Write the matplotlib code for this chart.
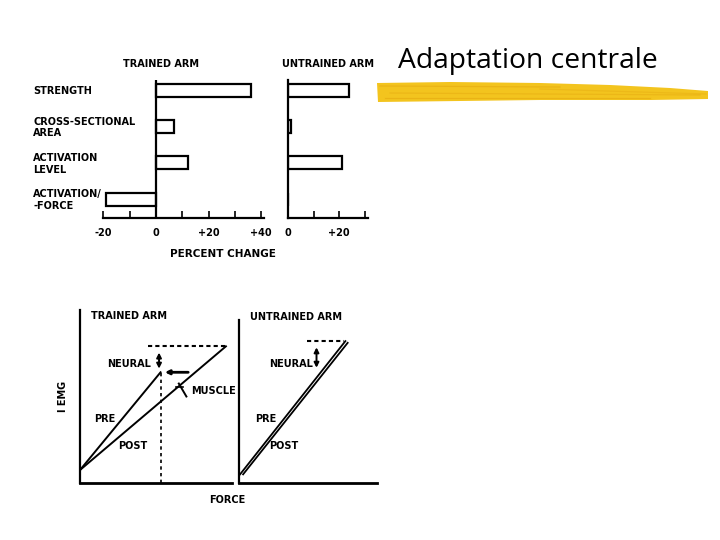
import matplotlib
matplotlib.use("Agg")
import matplotlib.pyplot as plt
import matplotlib.transforms as mtransforms
from matplotlib.lines import Line2D
from matplotlib.patches import Polygon

# ---------------- data ----------------
categories = ["STRENGTH", "CROSS-SECTIONAL\nAREA", "ACTIVATION\nLEVEL", "ACTIVATION/\n-FORCE"]
trained_change = [36, 7, 12, -19]
untrained_change = [24, 1, 21, 0]
trained_ticks = [-20, 0, 20, 40]
trained_ticklabels = ["-20", "0", "+20", "+40"]
untrained_ticks = [0, 20]
untrained_ticklabels = ["0", "+20"]

# bottom schematic (force vs integrated EMG)
tr_pre_force = [0, 5.3]
tr_pre_emg = [0.75, 6.4]
tr_post_force = [0, 9.6]
tr_post_emg = [0.75, 7.9]
un_pre_force = [0.07, 7.0]
un_pre_emg = [0.5, 8.2]
un_post_force = [0.27, 7.15]
un_post_emg = [0.5, 8.1]

W, H = 720, 540
fig = plt.figure(figsize=(7.2, 5.4), dpi=100)
fig.patch.set_facecolor("white")

def fr(x0, y0, x1, y1):
    # pixel box (left, top, right, bottom) -> figure fraction rect
    return [x0 / W, 1 - y1 / H, (x1 - x0) / W, (y1 - y0) / H]

def fx(x):
    return x / W

def fy(y):
    return 1 - y / H

lab = dict(fontsize=7, fontweight="bold", family="DejaVu Sans", color="black")
LW = 1.6

# ---------------- top: trained arm ----------------
ax1 = fig.add_axes(fr(103.4, 80, 263.8, 218))
ypos = [3, 2, 1, 0]
ax1.barh(ypos, trained_change, height=0.36, left=0, color="white", edgecolor="black", linewidth=LW)
ax1.set_xlim(-20, 41)
ax1.set_ylim(-0.52, 3.28)
ax1.axvline(0, color="black", lw=LW)
for s in ["top", "right", "left"]:
    ax1.spines[s].set_visible(False)
ax1.spines["bottom"].set_linewidth(LW)
ax1.set_yticks([])
ax1.set_xticks(trained_ticks)
ax1.set_xticklabels(trained_ticklabels, **lab)
ax1.set_xticks([-10, 10, 30], minor=True)
ax1.tick_params(axis="x", which="both", direction="in", length=5, width=1.2, pad=7)
ax1.set_xlabel("PERCENT CHANGE", fontsize=7.5, fontweight="bold")
ax1.xaxis.set_label_coords((223 - 103.4) / 160.4, -0.225)
fig.text(fx(161), fy(64), "TRAINED ARM", ha="center", va="center", **lab)

# category labels
trans = mtransforms.blended_transform_factory(fig.transFigure, ax1.transData)
for y, c in zip(ypos, categories):
    fig.text(33 / W, y - 0.03, c, transform=trans, ha="left", va="center", linespacing=1.2, **lab)

# ---------------- top: untrained arm ----------------
ax2 = fig.add_axes(fr(288, 80, 368, 218))
ax2.barh(ypos, untrained_change, height=0.36, left=0, color="white", edgecolor="black", linewidth=LW)
ax2.set_xlim(0, 31.3)
ax2.set_ylim(-0.52, 3.28)
for s in ["top", "right"]:
    ax2.spines[s].set_visible(False)
ax2.spines["bottom"].set_linewidth(LW)
ax2.spines["left"].set_linewidth(LW)
ax2.set_yticks([])
ax2.set_xticks(untrained_ticks)
ax2.set_xticklabels(untrained_ticklabels, **lab)
ax2.set_xticks([10, 30], minor=True)
ax2.tick_params(axis="x", which="both", direction="in", length=5, width=1.2, pad=7)
fig.text(fx(328), fy(64), "UNTRAINED ARM", ha="center", va="center", **lab)

# ---------------- bottom: trained arm ----------------
ax3 = fig.add_axes(fr(80, 310, 232, 483))
ax3.set_xlim(0, 10)
ax3.set_ylim(0, 10)
ax3.plot(tr_pre_force, tr_pre_emg, color="black", lw=1.4)
ax3.plot(tr_post_force, tr_post_emg, color="black", lw=1.4)
ax3.plot([4.5, tr_post_force[1]], [tr_post_emg[1]] * 2, color="black", lw=1.5, ls=(0, (2, 1.5)))
ax3.plot([tr_pre_force[1]] * 2, [0, tr_pre_emg[1]], color="black", lw=1.2, ls=(0, (2, 2)))
ax3.annotate("", xy=(5.2, tr_post_emg[1] - 0.2), xytext=(5.2, tr_pre_emg[1] + 0.05),
             arrowprops=dict(arrowstyle="<|-|>", color="black", lw=1.4, mutation_scale=7))
ax3.annotate("", xy=(5.4, tr_pre_emg[1]), xytext=(7.3, tr_pre_emg[1]),
             arrowprops=dict(arrowstyle="-|>", color="black", lw=2.0, mutation_scale=6))
ax3.plot([6.5, 7.0], [5.75, 5.0], color="black", lw=1.4)
ax3.plot([6.3, 6.75], [5.55, 5.55], color="black", lw=1.2)
ax3.text(1.8, 6.9, "NEURAL", ha="left", va="center", **lab)
ax3.text(7.3, 5.3, "MUSCLE", ha="left", va="center", **lab)
ax3.text(0.9, 3.7, "PRE", ha="left", va="center", **lab)
ax3.text(2.5, 2.15, "POST", ha="left", va="center", **lab)
ax3.text(0.7, 9.65, "TRAINED ARM", ha="left", va="center", **lab)
ax3.set_xticks([])
ax3.set_yticks([])
for s in ["top", "right"]:
    ax3.spines[s].set_visible(False)
ax3.spines["left"].set_linewidth(LW)
ax3.spines["bottom"].set_linewidth(2.0)
ax3.set_ylabel("I EMG", fontsize=7, fontweight="bold", labelpad=9)

# ---------------- bottom: untrained arm ----------------
ax4 = fig.add_axes(fr(239, 320, 377, 483))
ax4.set_xlim(0, 9.08)
ax4.set_ylim(0, 9.42)
ax4.plot(un_pre_force, un_pre_emg, color="black", lw=1.3)
ax4.plot(un_post_force, un_post_emg, color="black", lw=1.3)
ax4.plot([4.5, 6.9], [un_pre_emg[1]] * 2, color="black", lw=1.5, ls=(0, (2, 1.5)))
ax4.annotate("", xy=(5.1, 8.0), xytext=(5.1, 6.5),
             arrowprops=dict(arrowstyle="<|-|>", color="black", lw=1.4, mutation_scale=7))
ax4.text(2.0, 6.9, "NEURAL", ha="left", va="center", **lab)
ax4.text(1.05, 3.7, "PRE", ha="left", va="center", **lab)
ax4.text(2.0, 2.15, "POST", ha="left", va="center", **lab)
ax4.text(0.7, 9.6, "UNTRAINED ARM", ha="left", va="center", **lab)
ax4.set_xticks([])
ax4.set_yticks([])
for s in ["top", "right"]:
    ax4.spines[s].set_visible(False)
ax4.spines["left"].set_linewidth(LW)
ax4.spines["bottom"].set_linewidth(2.0)

fig.text(fx(227), fy(500), "FORCE", ha="center", va="center", **lab)

# ---------------- slide title ----------------
fig.text(fx(398), fy(61), "Adaptation centrale", ha="left", va="center",
         fontsize=20.3, family="Open Sans", color="black")
brush_pts = [(377, 83), (450, 82), (540, 83), (610, 85), (670, 88), (708, 91),
             (708, 99), (650, 100), (540, 100), (460, 101), (378, 102)]
brush = Polygon([(fx(x), fy(y)) for x, y in brush_pts], closed=True,
                transform=fig.transFigure, facecolor="#F3C41E", edgecolor="none")
fig.add_artist(brush)
for (x0, y0, x1, y1, a) in [(380, 86, 560, 87, 0.45), (390, 93, 700, 95, 0.35),
                            (385, 98, 650, 98, 0.45), (540, 89, 706, 94, 0.3)]:
    fig.add_artist(Line2D([fx(x0), fx(x1)], [fy(y0), fy(y1)],
                          transform=fig.transFigure, color="#E0A00C", lw=0.9, alpha=a))

fig.savefig("out.png", dpi=100)
